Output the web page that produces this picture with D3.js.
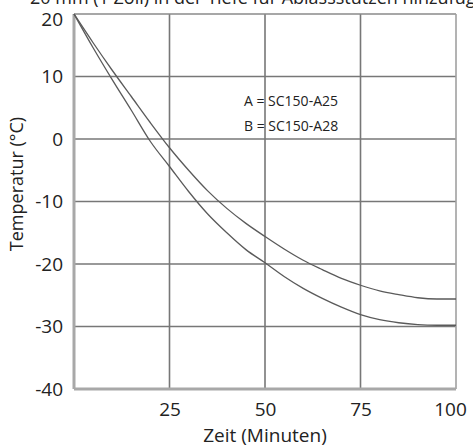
<!DOCTYPE html>
<html>
<head>
<meta charset="utf-8">
<script src="https://cdn.jsdelivr.net/npm/d3@7"></script>
<style>
  body { margin: 0; background: #fff; }
  text { font-family: "Open Sans", "Noto Sans", sans-serif; fill: #222; }
</style>
</head>
<body>
<svg></svg>
<script>
// Data
const minutes = [0, 5, 10, 15, 20, 25, 30, 35, 40, 45, 50, 55, 60, 65, 70, 75, 80, 85, 90, 95, 100];
const tempA = [20, 15.4, 11, 6.8, 2.6, -1.4, -5, -8.3, -11.1, -13.5, -15.6, -17.6, -19.4, -20.9, -22.3, -23.4, -24.3, -24.9, -25.4, -25.6, -25.6];
const tempB = [20, 14.6, 9.5, 4.6, -0.4, -4.4, -8.4, -12, -15, -17.7, -19.8, -22, -23.9, -25.5, -26.9, -28.1, -28.9, -29.4, -29.7, -29.8, -29.8];
const xTicks = [25, 50, 75, 100];
const yTicks = [20, 10, 0, -10, -20, -30, -40];
const legendLines = ["A = SC150-A25", "B = SC150-A28"];

const W = 473, H = 447;
const margin = { top: 14, right: 17, bottom: 58, left: 74 };
const width = W - margin.left - margin.right;
const height = H - margin.top - margin.bottom;

const root = d3.select("svg").attr("width", W).attr("height", H);

// Cut-off caption at the very top
root.append("text")
  .attr("x", 30)
  .attr("y", 4)
  .style("font-size", "18px")
  .text("20 mm (1 Zoll) in der Tiefe für Ablassstutzen hinzufügen");

const svg = root.append("g")
  .attr("transform", `translate(${margin.left},${margin.top})`);

const x = d3.scaleLinear().domain([0, 100]).range([0, width]);
const y = d3.scaleLinear().domain([-40, 20]).range([height, 0]);

// Grid lines
svg.append("g")
  .selectAll("line")
  .data(xTicks.slice(0, -1))
  .join("line")
  .attr("x1", d => x(d)).attr("x2", d => x(d))
  .attr("y1", 0).attr("y2", height)
  .attr("stroke", "#777")
  .attr("stroke-width", 1.6);

svg.append("g")
  .selectAll("line")
  .data(yTicks.slice(1, -1))
  .join("line")
  .attr("x1", 0).attr("x2", width)
  .attr("y1", d => y(d)).attr("y2", d => y(d))
  .attr("stroke", "#777")
  .attr("stroke-width", 1.6);

// Frame
svg.append("line").attr("x1", 0).attr("x2", width).attr("y1", 0).attr("y2", 0)
  .attr("stroke", "#8a8a8a").attr("stroke-width", 1.6);
svg.append("line").attr("x1", width).attr("x2", width).attr("y1", 0).attr("y2", height)
  .attr("stroke", "#a0a0a0").attr("stroke-width", 1.6);
svg.append("line").attr("x1", 0).attr("x2", width).attr("y1", height).attr("y2", height)
  .attr("stroke", "#a8a8a8").attr("stroke-width", 3);
svg.append("line").attr("x1", 0).attr("x2", 0).attr("y1", 0).attr("y2", height)
  .attr("stroke", "#a8a8a8").attr("stroke-width", 3);

// Curves
const line = d3.line()
  .x((d, i) => x(minutes[i]))
  .y(d => y(d))
  .curve(d3.curveMonotoneX);

[tempA, tempB].forEach(series => {
  svg.append("path")
    .datum(series)
    .attr("fill", "none")
    .attr("stroke", "#5a5a5a")
    .attr("stroke-width", 1.3)
    .attr("d", line);
});

// Y axis labels (plain hyphen minus, as in the original)
const yAxis = svg.append("g")
  .call(d3.axisLeft(y).tickValues(yTicks).tickFormat(d => String(d)).tickSize(0).tickPadding(11));
yAxis.select(".domain").remove();
yAxis.selectAll("text")
  .style("font-size", "19px")
  .style("font-family", "'Open Sans', sans-serif")
  .attr("fill", "#222")
  .attr("dy", d => d === 20 ? "0.62em" : "0.32em");

// X axis labels
const xAxis = svg.append("g")
  .attr("transform", `translate(0,${height})`)
  .call(d3.axisBottom(x).tickValues(xTicks).tickSize(0).tickPadding(14));
xAxis.select(".domain").remove();
xAxis.selectAll("text")
  .style("font-size", "19px")
  .style("font-family", "'Open Sans', sans-serif")
  .attr("fill", "#222")
  .attr("dx", d => d === 100 ? -6 : 0);

// Axis titles
svg.append("text")
  .attr("x", x(50))
  .attr("y", height + 53)
  .attr("text-anchor", "middle")
  .style("font-size", "19px")
  .text("Zeit (Minuten)");

svg.append("text")
  .attr("transform", `translate(${-51},${y(-7.2)}) rotate(-90)`)
  .attr("text-anchor", "middle")
  .style("font-size", "18px")
  .text("Temperatur (°C)");

// Legend text
svg.append("g")
  .selectAll("text")
  .data(legendLines)
  .join("text")
  .attr("x", x(44.5))
  .attr("y", (d, i) => y(5.3) + i * 25)
  .style("font-size", "14px")
  .text(d => d);
</script>
</body>
</html>
